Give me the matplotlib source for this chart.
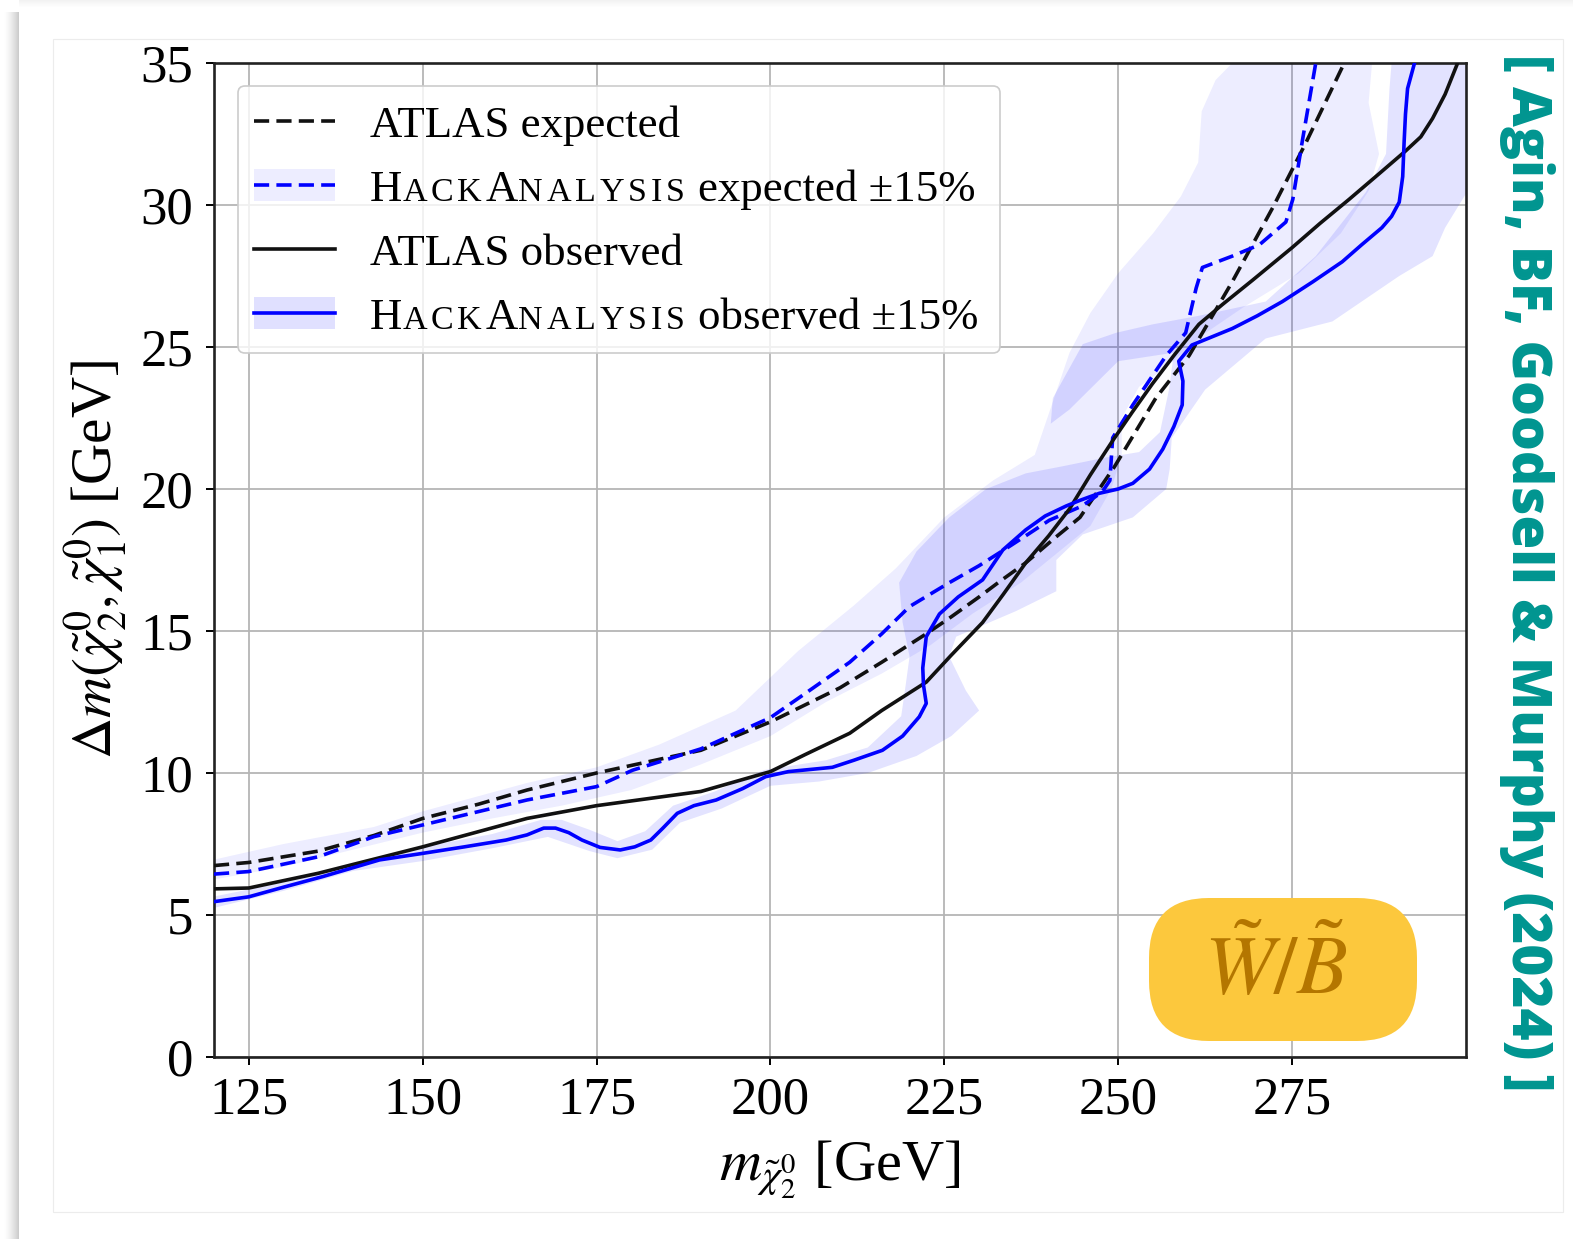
import matplotlib
matplotlib.use("Agg")
import matplotlib.pyplot as plt
from matplotlib.patches import Rectangle, FancyBboxPatch
from matplotlib.lines import Line2D

# ---------------- data ----------------
atlas_exp_x = [120, 125, 135, 143, 150, 158, 165, 175, 190, 200, 205, 210, 216, 222.4, 226, 230, 233,
               236.7, 241, 244.5, 249.5, 255.4, 260.2, 266.4, 272.2, 277.0, 282.5]
atlas_exp_y = [6.74, 6.85, 7.25, 7.8, 8.4, 8.9, 9.4, 10.0, 10.8, 11.8, 12.4, 13.0, 13.9, 14.9, 15.5,
               16.2, 16.75, 17.4, 18.3, 19.0, 20.8, 23.2, 24.7, 27.3, 29.9, 32.2, 35.0]

atlas_obs_x = [120, 125, 135, 150, 165, 175, 190, 200, 205, 211.4, 216, 222.4, 226, 230.5, 233.5, 236.7,
               240, 243.0, 246, 249.2, 252, 254.9, 258, 261.6, 265, 269.3, 275.0, 279, 283.2, 287.5,
               291.3, 293.5, 295.2, 297, 298.8]
atlas_obs_y = [5.92, 5.95, 6.47, 7.4, 8.4, 8.85, 9.35, 10.05, 10.65, 11.4, 12.2, 13.2, 14.15, 15.3,
               16.3, 17.4, 18.35, 19.3, 20.5, 21.7, 22.7, 23.7, 24.7, 25.8, 26.5, 27.35, 28.5, 29.35,
               30.2, 31.1, 31.9, 32.4, 33.05, 33.9, 35.0]

hack_exp_x = [120, 125, 135, 143, 150, 165, 175, 180.2, 190, 200, 205, 211.4, 216, 220, 225.7, 230,
              234.3, 237, 240.1, 244.8, 247.7, 248.8, 249.2, 252.1, 256.9, 259.7, 261.2, 262.1, 266.4,
              270.3, 274.1, 275.1, 276.5, 278.4]
hack_exp_y = [6.44, 6.53, 7.05, 7.76, 8.17, 9.05, 9.52, 10.1, 10.85, 11.95, 12.8, 13.9, 14.9, 15.86,
              16.7, 17.3, 17.97, 18.4, 18.9, 19.4, 19.9, 20.3, 21.8, 22.96, 24.7, 25.5, 27.07, 27.8,
              28.2, 28.6, 29.4, 30.2, 32.3, 35.0]

hack_obs_x = [120, 125, 130, 135.6, 143.8, 150, 156, 162, 165, 167.4, 169.1, 171, 172.9, 175.5, 178.4,
              180.5, 182.8, 184.5, 186.6, 189, 192.2, 196, 199.3, 202.6, 208.9, 212, 216.1, 219, 221.4,
              222.4, 222.0, 221.9, 222.4, 224.3, 227, 230.5, 233.4, 236.7, 239.5, 242.5, 244.5, 247.3,
              250, 252.1, 254.5, 256.4, 258, 259.2, 259.3, 258.7, 260.6, 266.4, 270, 273.6, 278, 282.2,
              285, 287.9, 289.3, 290.4, 290.9, 291.1, 291.3, 291.6, 292.6]
hack_obs_y = [5.47, 5.64, 5.98, 6.35, 6.94, 7.17, 7.4, 7.64, 7.82, 8.06, 8.06, 7.9, 7.64, 7.38, 7.29,
              7.4, 7.64, 8.05, 8.58, 8.85, 9.05, 9.45, 9.87, 10.05, 10.2, 10.45, 10.8, 11.3, 11.98,
              12.45, 13.1, 13.7, 14.8, 15.6, 16.2, 16.8, 17.85, 18.56, 19.05, 19.4, 19.6, 19.85,
              20.0, 20.2, 20.7, 21.4, 22.2, 22.96, 23.8, 24.5, 25.07, 25.65, 26.1, 26.6, 27.3, 28.0,
              28.6, 29.2, 29.6, 30.1, 31.0, 32.2, 33.2, 34.1, 35.0]

# +-15% bands (outline polygons)
exp_band_x = [120, 130, 143, 150, 165, 175, 184, 195, 204, 212, 218, 225, 232, 238, 240.5, 243, 246, 250,
              255, 259, 261.5, 262, 264, 266.4, 286.5, 286, 287.5, 286, 282, 276, 268, 262, 257, 253,
              250.5, 250.5, 249, 246, 241, 236, 229, 223, 216, 208, 200, 190, 180, 170, 160, 150, 140,
              130, 120]
exp_band_y = [6.95, 7.5, 8.1, 8.65, 9.65, 10.2, 11.0, 12.2, 14.3, 15.9, 17.2, 19.0, 20.3, 21.2, 23.0,
              24.8, 26.2, 27.6, 29.0, 30.3, 31.5, 33.3, 34.4, 35.0, 35.0, 33.6, 31.8, 30.5, 29.0, 27.6,
              26.4, 25.4, 24.3, 23.6, 22.5, 21.2, 20.0, 18.7, 17.7, 16.7, 15.6, 14.5, 13.5, 12.5, 11.3,
              10.3, 9.4, 8.85, 8.4, 7.9, 7.3, 6.7, 6.25]

obs_band_x = [120, 130, 140, 150, 160, 167, 170, 174, 178, 182, 186, 192, 199, 208, 214, 218.8, 219.5,
              220, 219, 218.5, 221, 225.7, 231, 236.7, 242, 248, 253, 256, 257.3, 258, 250, 243, 240.3,
              240.6, 244.9, 249.7, 255, 261.6, 271.2, 278.4,
              285.6, 288.5, 289, 289.3, 300, 300, 297, 295.2, 290.4, 280.8, 271.2, 262.5, 257.7, 257.4,
              256.9, 252.1, 244.9, 241.1, 241.1, 235.3, 226.7, 225.7, 228.1, 230, 226, 221, 214, 207,
              200, 193, 187, 183, 178, 174, 168, 160, 150, 140, 130, 120]
obs_band_y = [5.65, 6.15, 6.85, 7.4, 7.85, 8.35, 8.35, 8.0, 7.6, 7.95, 8.85, 9.35, 10.1, 10.45, 10.9,
              12.0, 13.2, 14.1, 15.3, 16.7, 17.8, 19.0, 20.0, 20.55, 20.8, 21.1, 21.3, 22.0, 23.5, 24.8,
              24.5, 22.8, 22.3, 23.2, 25.1, 25.5, 25.8, 26.1,
              26.6, 28.2, 30.45, 31.8, 34.1, 35.0, 35.0, 30.4, 29.2, 28.2, 27.5, 25.9, 25.3, 23.5, 21.8,
              20.7, 20.0, 19.0, 18.4, 17.5, 16.4, 15.7, 14.8, 14.1, 12.9, 12.2, 11.3, 10.6, 10.0, 9.7,
              9.55, 8.75, 8.25, 7.3, 7.0, 7.25, 7.75, 7.35, 6.9, 6.55, 5.85, 5.25]

x_ticks = [125, 150, 175, 200, 225, 250, 275]
y_ticks = [0, 5, 10, 15, 20, 25, 30, 35]

labels = ["ATLAS expected", "expected \u00b115%", "ATLAS observed", "observed \u00b115%"]

# ---------------- style ----------------
plt.rcParams['font.family'] = ['Liberation Serif', 'DejaVu Serif']
plt.rcParams['mathtext.fontset'] = 'stix'

W, H = 1573, 1239
DPI = 100
fig = plt.figure(figsize=(W / DPI, H / DPI), dpi=DPI)
fig.patch.set_facecolor('white')


def px(x, y):
    """pixel (from top-left) -> inches for fig.dpi_scale_trans"""
    return x / DPI, (H - y) / DPI


inch = fig.dpi_scale_trans

# card shadow on the left / top edge
for i in range(16):
    g = 1.0 - 0.20 * (i / 15.0) ** 1.5
    fig.add_artist(Rectangle(px(3 + i, H), 1 / DPI, (H - 12) / DPI, transform=inch,
                             facecolor=(g, g, g), edgecolor='none', zorder=-3))
for j in range(8):
    g = 1.0 - 0.05 * (j / 7.0)
    fig.add_artist(Rectangle(px(19, 7 - j + 1), (W - 19) / DPI, 1 / DPI, transform=inch,
                             facecolor=(g, g, g), edgecolor='none', zorder=-3))
fig.add_artist(Rectangle(px(53, 1212), (1563 - 53) / DPI, (1212 - 39) / DPI, transform=inch,
                         facecolor='none', edgecolor='#ececec', lw=0.8, zorder=-2))

# axes
left, right, top, bottom = 214, 1466, 63, 1057
ax = fig.add_axes([left / W, 1 - bottom / H, (right - left) / W, (bottom - top) / H])
ax.set_xlim(120, 300)
ax.set_ylim(0, 35)
ax.set_xticks(x_ticks)
ax.set_yticks(y_ticks)
ax.set_axisbelow(True)
ax.grid(True, color='#b5b5b5', lw=1.3)
for sp in ax.spines.values():
    sp.set_linewidth(1.9)
    sp.set_color('#222222')
ax.tick_params(direction='out', length=6, width=1.4, labelsize=38, colors='black')
ax.tick_params(axis='x', pad=8)
ax.tick_params(axis='y', pad=9)

ax.fill(exp_band_x, exp_band_y, color='blue', alpha=0.07, lw=0, zorder=1)
ax.fill(obs_band_x, obs_band_y, color='blue', alpha=0.11, lw=0, zorder=1)

lw = 2.6
dash = (4.2, 2.0)
kw = dict(lw=lw, zorder=3, solid_joinstyle='round', dash_joinstyle='round')
ax.plot(atlas_exp_x, atlas_exp_y, color='#111111', ls=(0, dash), **kw)
ax.plot(hack_exp_x, hack_exp_y, color='blue', ls=(0, dash), **kw)
ax.plot(atlas_obs_x, atlas_obs_y, color='#111111', ls='-', **kw)
ax.plot(hack_obs_x, hack_obs_y, color='blue', ls='-', **kw)

ax.set_xlabel(r'$m_{\tilde{\chi}_2^0}$ [GeV]', fontsize=42, labelpad=10)
ax.set_ylabel(r'$\Delta m(\tilde{\chi}_2^0, \tilde{\chi}_1^0)$ [GeV]', fontsize=41, labelpad=8)

# ---------------- legend (drawn manually for small caps) ----------------
fig.add_artist(FancyBboxPatch(px(238, 353), (1000 - 238) / DPI, (353 - 86) / DPI,
                              boxstyle='round,pad=0,rounding_size=0.07', transform=inch,
                              facecolor=(1, 1, 1, 0.8), edgecolor='#cccccc', lw=1.2, zorder=4))
row_c = [121, 185, 249, 313]
handle_styles = [('#111111', dash, None), ('blue', dash, 0.07), ('#111111', None, None), ('blue', None, 0.12)]
for (col, ls, a), yc in zip(handle_styles, row_c):
    if a is not None:
        fig.add_artist(Rectangle(px(254, yc + 16), 81 / DPI, 32 / DPI, transform=inch,
                                 facecolor=(0, 0, 1, a), edgecolor='none', zorder=5))
    x0, y0 = px(254, yc)
    x1, _ = px(335, yc)
    fig.add_artist(Line2D([x0, x1], [y0, y0], color=col, ls='-' if ls is None else (0, ls),
                          lw=lw, transform=inch, zorder=6))

renderer = fig.canvas.get_renderer()
FS = 32.3
SC = 24.5
SC_EXTRA = 3.8  # px of letter spacing for small caps


def put(xp, yb, s, size):
    t = fig.text(*px(xp, yb), s, transform=inch, fontsize=size, va='baseline', ha='left', zorder=7,
                 family=['Liberation Serif', 'DejaVu Serif'])
    return xp + t.get_window_extent(renderer).width


text_x = 370
baselines = [137, 201, 265, 329]
for lab, yb, k in zip(labels, baselines, range(4)):
    if k in (0, 2):
        put(text_x, yb, lab, FS)
    else:
        xx = text_x
        xx = put(xx, yb, 'H', FS)
        for ch in 'ACK':
            xx = put(xx, yb, ch, SC) + SC_EXTRA
        xx = put(xx, yb, 'A', FS)
        for ch in 'NALYSIS':
            xx = put(xx, yb, ch, SC) + SC_EXTRA
        xx += 10
        put(xx, yb, lab, FS)

# ---------------- yellow badge ----------------
fig.add_artist(FancyBboxPatch(px(1149, 1041), (1417 - 1149) / DPI, (1041 - 898) / DPI,
                              boxstyle='round,pad=0,rounding_size=0.6', transform=inch,
                              facecolor='#fcc83d', edgecolor='none', zorder=4))
fig.text(*px(1276, 972), r'$\tilde{W}/\tilde{B}$', transform=inch, fontsize=60, color='#b47600',
         ha='center', va='center', zorder=5)

# ---------------- citation ----------------
fig.text(*px(1527, 573), '[ Agin, BF, Goodsell & Murphy (2024) ]', transform=inch, rotation=-90,
         fontsize=39.5, fontweight='heavy', family=['Open Sans', 'DejaVu Sans'], color='#009590',
         ha='center', va='center', zorder=5)

fig.savefig('out.png', dpi=DPI)
